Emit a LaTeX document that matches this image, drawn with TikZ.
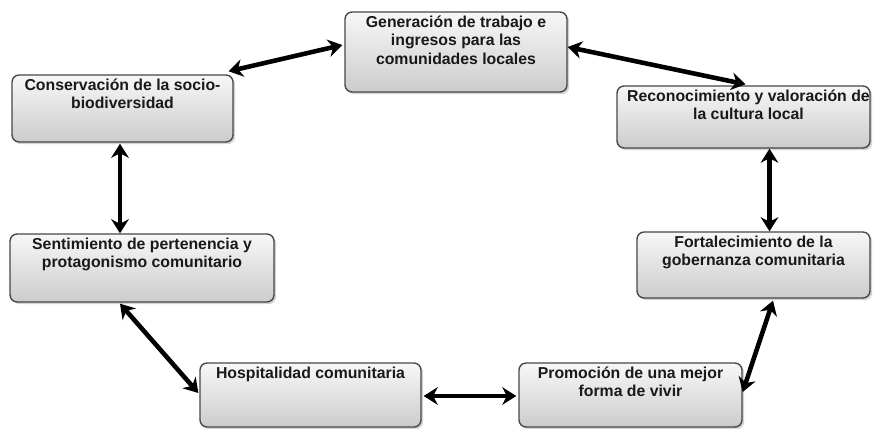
\documentclass[tikz,border=0pt]{standalone}
\usepackage{fontspec}
\setmainfont{Liberation Sans}
\usetikzlibrary{arrows.meta,shadows,calc}
\begin{document}
\begin{tikzpicture}[x=0.02cm,y=-0.02cm,
  caja/.style={draw=black!72,line width=0.8pt,rounded corners=4pt,
    top color=gray!6,bottom color=gray!40,inner sep=0pt,
    drop shadow={shadow xshift=1.2pt,shadow yshift=-1.2pt,opacity=0.35}},
  txt/.style={anchor=north,align=center,inner sep=0pt,text=black!90,
    font=\fontsize{9}{10.6}\selectfont\bfseries},
  flecha/.style={{Stealth[length=8pt,width=10pt]}-{Stealth[length=8pt,width=10pt]},line width=2.6pt}]
\useasboundingbox (0,0) rectangle (873,429);
% cajas
\node[caja,minimum width=4.44cm,minimum height=1.6cm] (gen) at (456,52) {};
\node[caja,minimum width=4.42cm,minimum height=1.34cm] (cons) at (122.5,108.5) {};
\node[caja,minimum width=5.06cm,minimum height=1.24cm] (reco) at (743.5,117) {};
\node[caja,minimum width=5.28cm,minimum height=1.36cm] (sent) at (142,268) {};
\node[caja,minimum width=4.66cm,minimum height=1.32cm] (fort) at (753.5,265) {};
\node[caja,minimum width=4.42cm,minimum height=1.28cm] (hosp) at (310.5,395) {};
\node[caja,minimum width=4.46cm,minimum height=1.28cm] (prom) at (630.5,395) {};
% textos
\node[txt] (genT) at ($(gen.north)+(0,4)$) {Generación de trabajo e\\ingresos para las\\comunidades locales};
\node[txt] (consT) at ($(cons.north)+(0,4)$) {Conservación de la socio-\\biodiversidad};
\node[txt] (recoT) at ($(reco.north)+(5,4)$) {Reconocimiento y valoración de\\la cultura local};
\node[txt] (sentT) at ($(sent.north)+(0,4)$) {Sentimiento de pertenencia y\\protagonismo comunitario};
\node[txt] (fortT) at ($(fort.north)+(0,4)$) {Fortalecimiento de la\\gobernanza comunitaria};
\node[txt] (hospT) at ($(hosp.north)+(0,4)$) {Hospitalidad comunitaria};
\node[txt] (promT) at ($(prom.north)+(0,4)$) {Promoción de una mejor\\forma de vivir};
% flechas
\draw[flecha] ($(cons.north east)+(-5,-3)$) -- ($(gen.west)+(-2,-7)$);
\draw[flecha] ($(gen.east)+(0,-5)$) -- ($(reco.north)+(2,-1)$);
\coordinate (c1) at ($(cons.south)+(-2.5,1)$);
\draw[flecha] (c1) -- (c1 |- sent.north);
\coordinate (c2) at ($(reco.south)+(26,0)$);
\draw[flecha] (c2) -- (c2 |- fort.north);
\draw[flecha] ($(sent.south)+(-22,1)$) -- ($(hosp.west)+(-1,-2)$);
\draw[flecha] ($(hosp.east)+(2,1)$) -- ($(prom.west)+(-2,1)$);
\draw[flecha] ($(prom.east)+(0,-3)$) -- ($(fort.south)+(19.5,2)$);
\end{tikzpicture}
\end{document}
